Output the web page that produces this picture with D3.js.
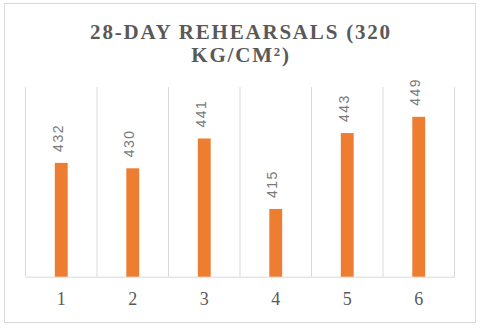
<!DOCTYPE html>
<html>
<head>
<meta charset="utf-8">
<script src="https://cdn.jsdelivr.net/npm/d3@7"></script>
<style>
  html, body { margin: 0; padding: 0; background: #fff; }
  svg { display: block; }
  .serif { font-family: 'Liberation Serif', 'Times New Roman', serif; }
  .sans { font-family: 'Liberation Sans', Arial, sans-serif; }
</style>
</head>
<body>
<svg id="chart" width="480" height="328"></svg>
<script>
  // data
  var categories = ['1', '2', '3', '4', '5', '6'];
  var values = [432, 430, 441, 415, 443, 449];
  var titleLines = ['28-DAY REHEARSALS (320', 'KG/CM\u00B2)'];
  var yDomain = [390, 460];

  var width = 480, height = 328;
  var plot = { left: 25.5, right: 454.5, top: 87, bottom: 276.7 };

  var svg = d3.select('#chart');

  // cadre exterieur
  svg.append('rect')
    .attr('x', 4.5).attr('y', 3.5)
    .attr('width', 471).attr('height', 319)
    .attr('fill', '#fff')
    .attr('stroke', '#d9d9d9')
    .attr('stroke-width', 1);

  // titre sur deux lignes
  svg.append('g')
    .selectAll('text')
    .data(titleLines)
    .join('text')
    .attr('class', 'serif')
    .attr('x', width / 2 + 1)
    .attr('y', function (d, i) { return 39 + i * 23; })
    .attr('text-anchor', 'middle')
    .style('font-weight', 'bold')
    .style('font-size', '21px')
    .style('letter-spacing', '1.8px')
    .attr('fill', '#595959')
    .text(function (d) { return d; });

  var x = d3.scaleBand()
    .domain(categories)
    .range([plot.left, plot.right]);

  var y = d3.scaleLinear()
    .domain(yDomain)
    .range([plot.bottom, plot.top]);

  // lignes verticales entre categories
  var bounds = categories.map(function (c) { return x(c); }).concat([plot.right]);
  svg.append('g')
    .selectAll('line')
    .data(bounds)
    .join('line')
    .attr('x1', function (d) { return d; })
    .attr('x2', function (d) { return d; })
    .attr('y1', plot.top)
    .attr('y2', plot.bottom)
    .attr('stroke', '#d9d9d9')
    .attr('stroke-width', 1);

  // axe des categories
  var xAxis = svg.append('g')
    .attr('transform', 'translate(0,' + plot.bottom + ')')
    .call(d3.axisBottom(x).tickSize(0).tickPadding(16));
  xAxis.select('.domain').attr('stroke', '#d9d9d9');
  xAxis.attr('font-family', null).attr('font-size', null);
  xAxis.selectAll('text')
    .attr('class', 'serif')
    .style('font-size', '18px')
    .attr('fill', '#595959');

  var barW = x.bandwidth() * 0.18;

  // barres
  svg.append('g')
    .selectAll('rect')
    .data(values)
    .join('rect')
    .attr('x', function (d, i) { return x(categories[i]) + x.bandwidth() / 2 - barW / 2; })
    .attr('y', function (d) { return y(d); })
    .attr('width', barW)
    .attr('height', function (d) { return y(yDomain[0]) - y(d); })
    .attr('fill', '#ed7d31');

  // etiquettes verticales
  svg.append('g')
    .selectAll('text')
    .data(values)
    .join('text')
    .attr('class', 'sans')
    .attr('transform', function (d, i) {
      var cx = x(categories[i]) + x.bandwidth() / 2 + 1.5;
      return 'translate(' + cx + ',' + (y(d) - 11) + ') rotate(-90)';
    })
    .attr('text-anchor', 'start')
    .style('font-size', '14px')
    .style('letter-spacing', '1.5px')
    .attr('fill', '#7a7a7a')
    .text(function (d) { return d; });
</script>
</body>
</html>
